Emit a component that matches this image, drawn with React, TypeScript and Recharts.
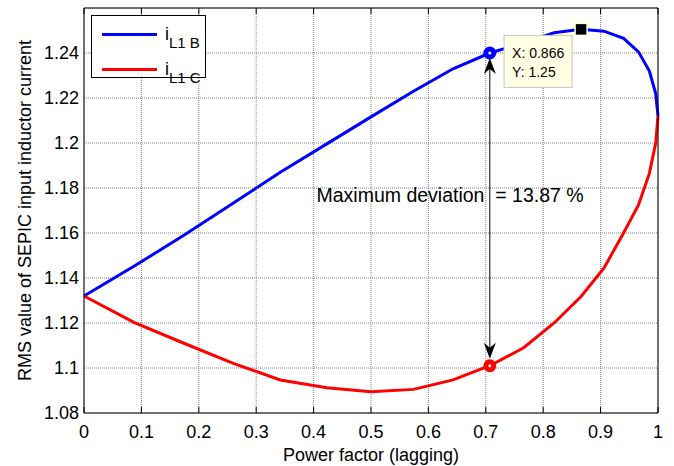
import React from "react";
import {
  LineChart,
  Line,
  XAxis,
  YAxis,
  CartesianGrid,
  Legend,
  ReferenceDot,
  ReferenceLine,
} from "recharts";

// power factor = cos(phi), phi stepped 90..0 deg in 5 deg steps
const pf = [0, 0.087, 0.174, 0.259, 0.342, 0.423, 0.5, 0.574, 0.643, 0.707, 0.766, 0.819, 0.866, 0.906, 0.94, 0.966, 0.985, 0.996, 1];
// RMS input inductor current, case B and case C
const iL1B = [1.132, 1.1452, 1.159, 1.1731, 1.187, 1.1996, 1.2116, 1.223, 1.233, 1.24, 1.2445, 1.249, 1.2505, 1.2497, 1.2465, 1.2405, 1.232, 1.222, 1.212];
const iL1C = [1.132, 1.1203, 1.111, 1.1022, 1.0947, 1.0912, 1.0894, 1.0905, 1.0947, 1.101, 1.109, 1.12, 1.1318, 1.1445, 1.16, 1.1725, 1.1865, 1.2, 1.212];

const xTicks = [0, 0.1, 0.2, 0.3, 0.4, 0.5, 0.6, 0.7, 0.8, 0.9, 1];
const yTicks = [1.08, 1.1, 1.12, 1.14, 1.16, 1.18, 1.2, 1.22, 1.24];
const yDomain = [1.08, 1.26];

const DEV_IDX = 9; // pf = 0.707
const TIP_IDX = 12; // pf = 0.866

const FONT = "'Liberation Sans', Arial, Helvetica, sans-serif";
const BLUE = "#0000ff";
const RED = "#ff0000";
const GRID = "#808080";

const data = pf.map((x, i) => ({ pf: x, B: iL1B[i], C: iL1C[i] }));

const noLabel = () => <g />;

function LegendBox({ payload }: any) {
  const items = payload || [];
  return (
    <div
      style={{
        position: "relative",
        width: 113,
        height: 61,
        border: "1px solid #000",
        background: "#fff",
        fontFamily: FONT,
        color: "#000",
      }}
    >
      {items.map((e: any, i: number) => (
        <div
          key={e.value}
          style={{ position: "absolute", left: 0, top: 6 + i * 35, height: 24, display: "flex", alignItems: "center" }}
        >
          <div style={{ marginLeft: 10, width: 55, height: 3, background: e.color }} />
          <span style={{ marginLeft: 8, fontSize: 18, lineHeight: "18px" }}>
            i
            <span style={{ fontSize: 15, position: "relative", top: 8 }}>{e.value}</span>
          </span>
        </div>
      ))}
    </div>
  );
}

function DevArrow({ x1, y1, x2, y2 }: any) {
  const x = x1;
  const top = Math.min(y1, y2) + 5;
  const bot = Math.max(y1, y2) - 7;
  return (
    <g>
      <line x1={x} x2={x} y1={top + 6} y2={bot - 6} stroke="#000" strokeWidth={1} />
      <polygon points={`${x},${top} ${x - 6},${top + 16} ${x},${top + 11} ${x + 6},${top + 16}`} fill="#000" />
      <polygon points={`${x},${bot} ${x - 6},${bot - 16} ${x},${bot - 11} ${x + 6},${bot - 16}`} fill="#000" />
    </g>
  );
}

function DataTip({ cx, cy }: any) {
  return (
    <g fontFamily={FONT}>
      <rect x={cx - 77} y={cy + 6} width={68} height={52} fill="#ffffe4" stroke="#c4c4c4" />
      <text x={cx - 69} y={cy + 29} fontSize={14} fill="#000">
        {`X: ${pf[TIP_IDX]}`}
      </text>
      <text x={cx - 69} y={cy + 48} fontSize={14} fill="#000">
        {`Y: ${iL1B[TIP_IDX].toFixed(2)}`}
      </text>
      <rect x={cx - 6} y={cy - 6} width={12} height={12} fill="#000" stroke="#ffffcc" strokeWidth={1.5} />
    </g>
  );
}

function Marker({ cx, cy, color }: any) {
  return <circle cx={cx} cy={cy} r={4} fill="#fff" stroke={color} strokeWidth={5} />;
}

function DevText({ cx, cy }: any) {
  return (
    <text x={cx} y={cy} fontSize={19.5} fontFamily={FONT} fill="#000" style={{ whiteSpace: "pre" }}>
      {"Maximum deviation  = 13.87 %"}
    </text>
  );
}

export default function App() {
  const tickStyle = { fontSize: 18, fill: "#000", fontFamily: FONT };
  return (
    <div style={{ position: "absolute", left: 0, top: 0, background: "#fff" }}>
      <LineChart width={674} height={466} data={data} margin={{ top: 8, right: 16, left: 0, bottom: 0 }}>
        <CartesianGrid stroke={GRID} strokeDasharray="1 1" />
        <XAxis
          dataKey="pf"
          type="number"
          domain={[0, 1]}
          ticks={xTicks}
          interval={0}
          height={53}
          tickLine={false}
          tickSize={6}
          tickMargin={6}
          axisLine={{ stroke: "#000" }}
          tick={tickStyle}
          label={{ value: "Power factor (lagging)", position: "insideBottom", offset: 5, style: tickStyle }}
        />
        <XAxis xAxisId="bIn" dataKey="pf" type="number" domain={[0, 1]} ticks={xTicks} interval={0} mirror axisLine={false} tickSize={6} tickLine={{ stroke: "#000" }} tick={noLabel} />
        <XAxis xAxisId="top" orientation="top" dataKey="pf" type="number" domain={[0, 1]} ticks={xTicks} interval={0} mirror axisLine={{ stroke: "#000" }} tickSize={6} tickLine={{ stroke: "#000" }} tick={noLabel} />
        <YAxis
          type="number"
          domain={yDomain}
          ticks={yTicks}
          interval={0}
          width={84}
          tickLine={false}
          tickSize={3}
          tickMargin={2}
          axisLine={{ stroke: "#000" }}
          tick={tickStyle}
          label={{
            content: ({ viewBox }: any) => (
              <text
                x={viewBox.x + 25}
                y={viewBox.y + viewBox.height / 2}
                transform={`rotate(-90 ${viewBox.x + 25} ${viewBox.y + viewBox.height / 2})`}
                textAnchor="middle"
                dominantBaseline="central"
                fontSize={18}
                fontFamily={FONT}
                fill="#000"
              >
                RMS value of SEPIC input inductor current
              </text>
            ),
          }}
        />
        <YAxis yAxisId="lIn" type="number" domain={yDomain} ticks={yTicks} interval={0} mirror axisLine={false} tickSize={6} tickLine={{ stroke: "#000" }} tick={noLabel} />
        <YAxis yAxisId="right" orientation="right" type="number" domain={yDomain} ticks={yTicks} interval={0} mirror axisLine={{ stroke: "#000" }} tickSize={6} tickLine={{ stroke: "#000" }} tick={noLabel} />
        <Legend
          layout="vertical"
          align="center"
          verticalAlign="middle"
          wrapperStyle={{ left: 91, top: 15 }}
          content={LegendBox}
        />
        <Line type="linear" dataKey="B" name="L1 B" stroke={BLUE} strokeWidth={3} dot={false} isAnimationActive={false} />
        <Line type="linear" dataKey="C" name="L1 C" stroke={RED} strokeWidth={3} dot={false} isAnimationActive={false} />
        <ReferenceLine
          segment={[
            { x: pf[DEV_IDX], y: iL1C[DEV_IDX] },
            { x: pf[DEV_IDX], y: iL1B[DEV_IDX] },
          ]}
          shape={DevArrow}
        />
        <ReferenceDot x={pf[DEV_IDX]} y={iL1B[DEV_IDX]} r={4} shape={(p: any) => <Marker {...p} color={BLUE} />} />
        <ReferenceDot x={pf[DEV_IDX]} y={iL1C[DEV_IDX]} r={4} shape={(p: any) => <Marker {...p} color={RED} />} />
        <ReferenceDot x={pf[TIP_IDX]} y={iL1B[TIP_IDX]} r={6} shape={DataTip} />
        <ReferenceDot x={0.405} y={1.1738} r={0} shape={DevText} />
      </LineChart>
    </div>
  );
}
